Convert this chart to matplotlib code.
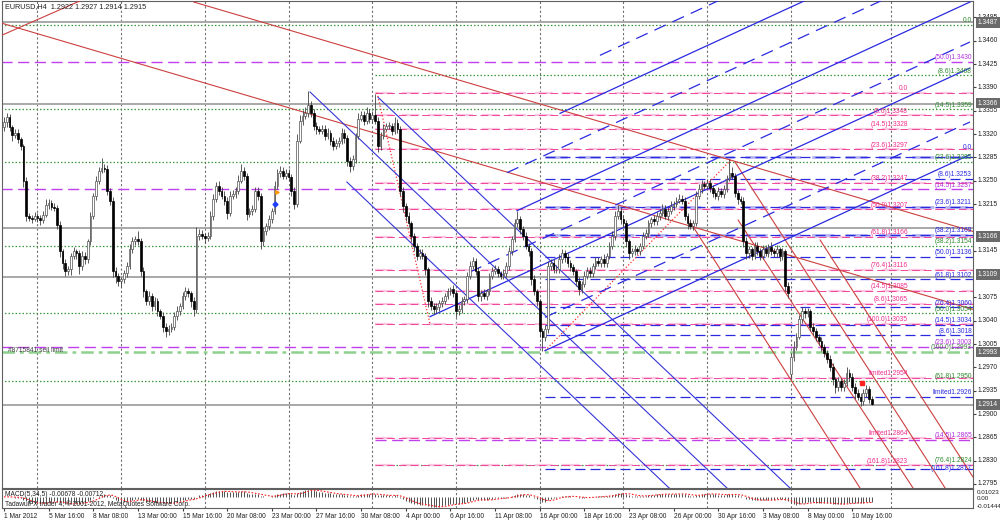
import matplotlib

matplotlib.use("Agg")
import matplotlib.pyplot as plt
import numpy as np
import pandas as pd

plt.rcParams["font.family"] = ["Liberation Sans", "DejaVu Sans"]

# EURUSD H4 closes, one row per trading day (1 Mar .. 11 May 2012, 6 bars a day)
closes = [
    1.3338, 1.3345, 1.3330, 1.3318, 1.3322, 1.3312,  # 1 Mar
    1.3302, 1.3250, 1.3197, 1.3194, 1.3193, 1.3197,
    1.3194, 1.3191, 1.3199, 1.3214, 1.3217, 1.3211,  # 5 Mar
    1.3209, 1.3184, 1.3144, 1.3126, 1.3114, 1.3117,
    1.3137, 1.3144, 1.3141, 1.3122, 1.3137, 1.3132,
    1.3159, 1.3197, 1.3227, 1.3250, 1.3265, 1.3269,
    1.3268, 1.3235, 1.3220, 1.3114, 1.3107, 1.3099,
    1.3102, 1.3111, 1.3122, 1.3147, 1.3159, 1.3162,  # 12 Mar
    1.3159, 1.3114, 1.3084, 1.3069, 1.3077, 1.3062,
    1.3069, 1.3054, 1.3047, 1.3031, 1.3024, 1.3027,
    1.3031, 1.3047, 1.3054, 1.3062, 1.3077, 1.3084,
    1.3081, 1.3069, 1.3057, 1.3167, 1.3170, 1.3167,
    1.3164, 1.3167, 1.3197, 1.3223, 1.3242, 1.3235,  # 19 Mar
    1.3227, 1.3220, 1.3202, 1.3227, 1.3230, 1.3235,
    1.3250, 1.3265, 1.3257, 1.3200, 1.3205, 1.3208,
    1.3235, 1.3227, 1.3159, 1.3174, 1.3182, 1.3192,
    1.3205, 1.3242, 1.3262, 1.3265, 1.3257, 1.3262,
    1.3256, 1.3235, 1.3215, 1.3310, 1.3340, 1.3347,  # 26 Mar
    1.3352, 1.3363, 1.3352, 1.3332, 1.3328, 1.3325,
    1.3328, 1.3317, 1.3322, 1.3310, 1.3302, 1.3307,
    1.3310, 1.3322, 1.3314, 1.3280, 1.3272, 1.3283,
    1.3317, 1.3343, 1.3348, 1.3340, 1.3352, 1.3343,
    1.3348, 1.3340, 1.3302, 1.3317, 1.3328, 1.3332,  # 2 Apr
    1.3332, 1.3325, 1.3337, 1.3328, 1.3235, 1.3212,
    1.3197, 1.3186, 1.3167, 1.3152, 1.3137, 1.3141,
    1.3137, 1.3117, 1.3069, 1.3062, 1.3057, 1.3060,
    1.3066, 1.3069, 1.3077, 1.3084, 1.3087, 1.3081,
    1.3054, 1.3057, 1.3069, 1.3072, 1.3107, 1.3122,  # 9 Apr
    1.3129, 1.3114, 1.3077, 1.3081, 1.3077, 1.3084,
    1.3107, 1.3114, 1.3117, 1.3111, 1.3107, 1.3111,
    1.3122, 1.3144, 1.3162, 1.3186, 1.3192, 1.3177,
    1.3167, 1.3152, 1.3144, 1.3102, 1.3084, 1.3069,
    1.3024, 1.3016, 1.3027, 1.3122, 1.3126, 1.3117,  # 16 Apr
    1.3117, 1.3132, 1.3141, 1.3135, 1.3126, 1.3120,
    1.3114, 1.3099, 1.3087, 1.3095, 1.3107, 1.3114,
    1.3111, 1.3122, 1.3129, 1.3126, 1.3132, 1.3126,
    1.3137, 1.3152, 1.3167, 1.3197, 1.3205, 1.3192,
    1.3186, 1.3159, 1.3141, 1.3144, 1.3147, 1.3144,  # 23 Apr
    1.3152, 1.3167, 1.3171, 1.3186, 1.3192, 1.3189,
    1.3197, 1.3202, 1.3208, 1.3197, 1.3205, 1.3212,
    1.3215, 1.3220, 1.3223, 1.3220, 1.3197, 1.3186,
    1.3182, 1.3186, 1.3227, 1.3238, 1.3245, 1.3242,
    1.3247, 1.3239, 1.3232, 1.3227, 1.3235, 1.3230,  # 30 Apr
    1.3238, 1.3253, 1.3262, 1.3257, 1.3232, 1.3223,
    1.3220, 1.3159, 1.3141, 1.3147, 1.3137, 1.3152,
    1.3144, 1.3137, 1.3147, 1.3141, 1.3150, 1.3144,
    1.3141, 1.3147, 1.3137, 1.3144, 1.3092, 1.3081,
    1.2986, 1.3001, 1.3016, 1.3042, 1.3054, 1.3051,  # 7 May
    1.3054, 1.3031, 1.3024, 1.3016, 1.3009, 1.3001,
    1.2991, 1.2982, 1.2971, 1.2952, 1.2941, 1.2949,
    1.2940, 1.2946, 1.2961, 1.2956, 1.2941, 1.2931,
    1.2926, 1.2919, 1.2931, 1.2937, 1.2922, 1.2915,
]

# wick lengths beyond the body, in pips
wick_up = [
    8, 6, 5, 4, 6, 5,  4, 3, 6, 4, 5, 6,  5, 4, 6, 8, 5, 4,  6, 4, 5, 3, 6, 5,
    5, 6, 4, 5, 7, 6,  4, 6, 5, 7, 6, 15,  6, 5, 4, 5, 6, 4,  4, 5, 6, 8, 7, 5,
    12, 5, 6, 4, 7, 5,  6, 5, 4, 6, 5, 7,  5, 6, 8, 5, 6, 7,  5, 4, 6, 14, 7, 6,
    5, 6, 8, 7, 6, 8,  6, 7, 5, 8, 6, 5,  8, 10, 6, 5, 4, 6,  6, 5, 4, 6, 5, 7,
    4, 8, 6, 7, 5, 6,  5, 4, 6, 10, 8, 9,  8, 22, 6, 5, 6, 4,  6, 5, 7, 4, 5, 6,
    5, 7, 6, 4, 5, 6,  4, 8, 6, 7, 9, 5,  7, 32, 5, 6, 7, 5,  6, 5, 8, 6, 4, 5,
    5, 6, 4, 5, 4, 6,  6, 5, 4, 6, 5, 7,  5, 6, 4, 5, 4, 6,  5, 6, 7, 5, 6, 8,
    7, 5, 6, 5, 6, 4,  5, 6, 7, 5, 4, 6,  6, 7, 5, 6, 12, 5,  5, 6, 4, 5, 6, 4,
    4, 5, 6, 8, 7, 6,  6, 8, 7, 5, 6, 5,  5, 4, 6, 5, 7, 6,  6, 5, 7, 6, 5, 8,
    5, 6, 8, 7, 9, 6,  6, 5, 4, 5, 6, 4,  5, 6, 7, 5, 4, 6,  6, 5, 7, 6, 5, 8,
    5, 6, 7, 6, 5, 4,  6, 5, 8, 7, 6, 5,  6, 5, 4, 6, 5, 4,  5, 6, 21, 8, 5, 4,
    4, 5, 6, 5, 4, 6,  6, 5, 7, 6, 5, 8,  5, 6, 4, 5, 4, 6,  6, 8, 6, 7, 6, 5,
    5, 4, 6, 5, 4, 6,  4, 5, 6, 5, 4, 6,  5, 6, 10, 7, 5, 6,  6, 5, 7, 6, 5, 5,
]
wick_dn = [
    5, 7, 6, 8, 4, 6,  6, 10, 8, 5, 6, 4,  6, 7, 5, 4, 6, 5,  5, 6, 8, 9, 7, 6,
    9, 5, 8, 12, 6, 7,  6, 5, 4, 6, 5, 4,  5, 7, 6, 8, 10, 7,  9, 6, 5, 4, 5, 6,
    5, 7, 9, 6, 5, 8,  6, 7, 5, 8, 9, 5,  4, 5, 6, 5, 4, 6,  6, 8, 10, 5, 6, 4,
    7, 5, 4, 6, 5, 6,  5, 6, 10, 5, 4, 6,  5, 4, 6, 9, 5, 6,  5, 6, 12, 7, 5, 6,
    6, 5, 4, 6, 5, 4,  6, 8, 7, 5, 4, 6,  5, 6, 7, 6, 8, 5,  5, 6, 5, 7, 6, 5,
    6, 5, 7, 8, 9, 6,  6, 5, 4, 6, 5, 7,  6, 5, 9, 6, 5, 4,  5, 6, 5, 7, 8, 9,
    7, 6, 8, 7, 6, 5,  5, 8, 9, 6, 7, 5,  6, 5, 4, 5, 6, 5,  8, 6, 5, 6, 5, 4,
    5, 6, 8, 7, 5, 6,  6, 5, 4, 6, 5, 4,  5, 6, 5, 4, 6, 7,  6, 5, 7, 8, 6, 7,
    8, 21, 6, 5, 6, 5,  5, 6, 5, 7, 6, 5,  6, 7, 9, 6, 5, 4,  5, 6, 5, 4, 6, 5,
    6, 5, 4, 6, 5, 7,  5, 8, 9, 6, 5, 4,  6, 5, 4, 5, 6, 5,  5, 6, 5, 4, 6, 5,
    6, 5, 4, 5, 6, 8,  5, 6, 4, 5, 6, 5,  5, 6, 7, 5, 6, 5,  6, 5, 4, 5, 6, 8,
    5, 8, 9, 7, 6, 5,  5, 6, 5, 4, 6, 5,  6, 5, 7, 6, 8, 7,  8, 6, 5, 4, 6, 7,
    6, 7, 5, 6, 5, 7,  6, 5, 7, 8, 9, 6,  6, 5, 4, 6, 7, 8,  5, 7, 6, 5, 6, 1,
]
first_open = 1.3330
gap_bars = [282]
gap_opens = [1.2960]

tick_bars = list(range(0, 305, 16))
tick_labels = [
    "1 Mar 2012", "5 Mar 16:00", "8 Mar 08:00", "13 Mar 00:00", "15 Mar 16:00",
    "20 Mar 08:00", "23 Mar 00:00", "27 Mar 16:00", "30 Mar 08:00", "4 Apr 00:00",
    "6 Apr 16:00", "11 Apr 08:00", "16 Apr 00:00", "18 Apr 16:00", "23 Apr 08:00",
    "26 Apr 00:00", "30 Apr 16:00", "3 May 08:00", "8 May 00:00", "10 May 16:00",
]
week_bars = [12, 42, 72, 102, 132, 162, 192, 222, 252, 282, 318]

# horizontal objects (price, first bar)
gray_lv = [1.3488, 1.3365, 1.3179, 1.3106, 1.2914]
green_lv = [1.3484, 1.3408, 1.3357, 1.3278, 1.3152, 1.3051, 1.2950, 1.2824]
green_from = [-1, 133, -1, -1, -1, -1, -1, 133]
green_txt = ["0.0", "(8.6)1.3408", "(14.5)1.3359", "(23.6)1.3285", "(38.2)1.3154",
             "(50.0)1.3054", "(61.8)1.2950", "(76.4)1.2824"]
purple_lv = [1.3428, 1.3237, 1.3001, 1.2861]
purple_from = [-1, -1, -1, 133]
purple_txt = ["(50.0)1.3430", "(14.5)1.3237", "(23.6)1.3003", "(14.5)1.2865"]
pink_lv = [1.3382, 1.3348, 1.3328, 1.3297, 1.3247, 1.3207, 1.3166, 1.3116, 1.3085,
           1.3065, 1.3035, 1.2954, 1.2864, 1.2823]
pink_txt = ["0.0", "(8.6)1.3348", "(14.5)1.3328", "(23.6)1.3297", "(38.2)1.3247",
            "(50.0)1.3207", "(61.8)1.3166", "(76.4)1.3116", "(14.5)1.3085", "(8.6)1.3065",
            "(100.0)1.3035", "limited1.2954", "limited1.2864", "(161.8)1.2823"]
blue_lv = [1.3285, 1.3253, 1.3211, 1.3169, 1.3136, 1.3102, 1.3060, 1.3034, 1.3018,
           1.2926, 1.2817]
blue_txt = ["0.0", "(8.6)1.3253", "(23.6)1.3211", "(38.2)1.3169", "(50.0)1.3136",
            "(61.8)1.3102", "(76.4)1.3060", "(14.5)1.3034", "(8.6)1.3018",
            "limited1.2926", "(161.8)1.2817"]
sell_limit = 1.2993

# trend lines: (bar0, price0) -> (bar1, price1)
red_b0 = [68.0, -1.4, -1.4, 245.9, 262.0, 263.1, 292.5]
red_p0 = [1.3518, 1.3487, 1.3467, 1.3188, 1.3278, 1.3191, 1.3161]
red_b1 = [348.0, 348.0, 28.0, 306.8, 337.3, 325.8, 348.0]
red_p1 = [1.3173, 1.3056, 1.3521, 1.2789, 1.2789, 1.2789, 1.2801]
fibline_b0 = [133.7, 193.9]
fibline_p0 = [1.3382, 1.2995]
fibline_b1 = [152.7, 261.0]
fibline_p1 = [1.3035, 1.3283]
bdown_b0 = [109.7, 122.9, 134.1]
bdown_p0 = [1.3383, 1.3248, 1.3375]
bdown_b1 = [259.1, 238.4, 281.7]
bdown_p1 = [1.2789, 1.2789, 1.2789]
bup_b0 = [193.9, 152.7, 183.9, 199.3]
bup_p0 = [1.2995, 1.3046, 1.3205, 1.3351]
bup_p1 = [1.3289, 1.3419, 1.3518, 1.3634]
bupd_b0 = [193.9, 167.0, 180.3, 213.6]
bupd_p0 = [1.3045, 1.3113, 1.3262, 1.3438]
bupd_p1 = [1.3338, 1.3458, 1.3581, 1.3694]
bup_end = 346.2

axis_prices = [1.2795, 1.2830, 1.2865, 1.2900, 1.2935, 1.2970, 1.3005, 1.3040, 1.3075,
               1.3145, 1.3215, 1.3250, 1.3285, 1.3320, 1.3355, 1.3390, 1.3425,
               1.3460, 1.3495]
box_prices = [1.3487, 1.3366, 1.3166, 1.3109, 1.2993, 1.2914]

XMIN, XMAX = -0.7, 347.3
FS = 4.8

c = np.array(closes)
o = np.r_[first_open, c[:-1]]
for b, v in zip(gap_bars, gap_opens):
    o[b] = v
hi = np.maximum(o, c) + np.array(wick_up) * 1e-4
lo = np.minimum(o, c) - np.array(wick_dn) * 1e-4
x = np.arange(len(c))

fig = plt.figure(figsize=(10, 5.21), dpi=100)
ax = fig.add_axes([0.002, 33 / 521, 0.971, 487 / 521])
axm = fig.add_axes([0.002, 13 / 521, 0.971, 19 / 521])

for a in (ax, axm):
    a.set_xlim(XMIN, XMAX)
    for s in a.spines.values():
        s.set_color("#606060")
        s.set_linewidth(0.8)
    for wb in week_bars:
        a.axvline(wb, color="#707070", lw=0.8, ls=(0, (2, 2)), zorder=1)
ax.set_ylim(1.2789, 1.35195)

# horizontal objects
for p in gray_lv:
    ax.plot([XMIN, XMAX], [p, p], color="#a8a8a8", lw=1.4, zorder=2)
ax.plot([XMIN, XMAX], [sell_limit] * 2, color="#8fd08f", lw=1.8,
        ls=(0, (5, 2, 1.5, 2)), zorder=2)
for p, b0 in zip(green_lv, green_from):
    ax.plot([b0, XMAX], [p, p], color="#3a9a3a", lw=0.9, ls=(0, (1.2, 1.6)), zorder=2)
for p, b0 in zip(purple_lv, purple_from):
    ax.plot([b0, XMAX], [p, p], color="#c040f0", lw=1.0, ls=(0, (8, 4)), zorder=2)
for p in pink_lv:
    ax.plot([133, XMAX], [p, p], color="#fbc4df", lw=1.6, ls=(0, (8, 4)), zorder=2)
    ax.plot([133, XMAX], [p, p], color="#f0479c", lw=0.7, ls=(0, (8, 4)), zorder=2)
for i, p in enumerate(blue_lv):
    if i in (0, 2, 3):
        ax.plot([194, XMAX], [p, p], color="#b4b4f2", lw=2.0, ls=(0, (8, 4)), zorder=2)
    ax.plot([194, XMAX], [p, p], color="#2a2ae0", lw=0.9, ls=(0, (8, 4)), zorder=2)

# trend lines
for b0, p0, b1, p1 in zip(red_b0, red_p0, red_b1, red_p1):
    ax.plot([b0, b1], [p0, p1], color="#cc4040", lw=0.8, zorder=3)
for b0, p0, b1, p1 in zip(fibline_b0, fibline_p0, fibline_b1, fibline_p1):
    ax.plot([b0, b1], [p0, p1], color="#ff3030", lw=0.9, ls=":", zorder=3)
for b0, p0, b1, p1 in zip(bdown_b0, bdown_p0, bdown_b1, bdown_p1):
    ax.plot([b0, b1], [p0, p1], color="#3535d8", lw=0.8, zorder=3)
for b0, p0, p1 in zip(bup_b0, bup_p0, bup_p1):
    ax.plot([b0, bup_end], [p0, p1], color="#2a2ae0", lw=0.9, zorder=3)
for b0, p0, p1 in zip(bupd_b0, bupd_p0, bupd_p1):
    ax.plot([b0, bup_end], [p0, p1], color="#2a2ae0", lw=0.9, ls=(0, (10, 6)), zorder=3)

# candles
up = c >= o
ax.vlines(x, lo, hi, color="#404040", lw=0.6, zorder=4)
body_lo = np.minimum(o, c)
body_h = np.maximum(np.abs(c - o), 0.00008)
ax.bar(x[up], body_h[up], bottom=body_lo[up], width=0.62, color="white",
       edgecolor="#505050", lw=0.5, zorder=5)
ax.bar(x[~up], body_h[~up], bottom=body_lo[~up], width=0.62, color="black",
       edgecolor="black", lw=0.5, zorder=5)

# small chart objects
ax.plot(97.0, 1.3215, marker="D", ms=2.5, color="#1f3fff", zorder=6)
ax.plot(98.0, 1.3233, marker=">", ms=2.5, color="#ff9900", zorder=6)
ax.plot(307.5, 1.2946, marker="s", ms=3, color="#ff2020", zorder=6)

# level labels
for p, t in zip(pink_lv, pink_txt):
    ax.text(324, p + 0.0001, t, color="#ee2d8c", fontsize=FS, ha="right", va="bottom", zorder=7)
right_x = XMAX - 0.4
for p, t in zip(green_lv, green_txt):
    ax.text(right_x, p + 0.0001, t, color="#2e8b2e", fontsize=FS, ha="right", va="bottom", zorder=7)
for p, t in zip(purple_lv, purple_txt):
    ax.text(right_x, p + 0.0001, t, color="#b030e0", fontsize=FS, ha="right", va="bottom", zorder=7)
for p, t in zip(blue_lv[1:], blue_txt[1:]):
    dy = 0.0001 if p > 1.2820 else -0.00045
    ax.text(right_x, p + dy, t, color="#2a2ae0", fontsize=FS, ha="right", va="bottom", zorder=7)
ax.text(right_x, blue_lv[0] + 0.0009, blue_txt[0], color="#2a2ae0", fontsize=FS,
        ha="right", va="bottom", zorder=7)
ax.text(right_x, sell_limit + 0.0001, "(100.0)1.2993", color="#4a7a4a", fontsize=FS,
        ha="right", va="bottom", zorder=7)
ax.text(1.5, sell_limit + 0.00025, "#8715841 sell limit", color="#404040", fontsize=FS,
        ha="left", va="center", zorder=7)

# right price scale
ax.set_xticks([])
ax.set_yticks(axis_prices)
ax.tick_params(axis="y", left=False, right=True, labelleft=False, labelright=False,
               direction="out", length=2, color="#404040")
ytr = ax.get_yaxis_transform()
for p in axis_prices:
    ax.text(1.005, p, f"{p:.4f}", transform=ytr, fontsize=FS, color="#202020",
            ha="left", va="center", clip_on=False)
for p in box_prices:
    ax.text(1.005, p, f"{p:.4f}", transform=ytr, fontsize=FS, color="white",
            ha="left", va="center", clip_on=False, zorder=10,
            bbox=dict(boxstyle="square,pad=0.25", fc="#6a6a6a", ec="none"))

fig.text(0.005, 1 - 7 / 521, "EURUSD,H4  1.2922 1.2927 1.2914 1.2915",
         fontsize=5.2, color="#202020", ha="left", va="center")

# MACD(5,34,5) window
ema_fast = pd.Series(c).ewm(span=5, adjust=False).mean()
ema_slow = pd.Series(c).ewm(span=34, adjust=False).mean()
macd = (ema_fast - ema_slow).values
signal = pd.Series(macd).rolling(5, min_periods=1).mean().values
axm.set_ylim(-0.01444, 0.01023)
axm.vlines(x, 0, macd, color="#505050", lw=0.7, zorder=3)
axm.plot(x, signal, color="#ff2020", lw=0.8, ls=(0, (1.5, 1.5)), zorder=4)
axm.set_yticks([])
axm.set_xticks(tick_bars)
axm.set_xticklabels(tick_labels, fontsize=FS, ha="left", color="#202020")
axm.tick_params(axis="x", length=2, pad=1.5, color="#404040")
fig.text(0.005, 1 - 495 / 521, "MACD(5,34,5) -0.00678 -0.00712", fontsize=FS,
         color="#202020", ha="left", va="center")
fig.text(0.005, 1 - 504 / 521, "TadawulFX trader 4, \u00a9 2001-2012, MetaQuotes Software Corp.",
         fontsize=FS, color="#202020", ha="left", va="center")
for yy, t in [(493, "0.01023"), (499, "0.00"), (506, "-0.01444")]:
    fig.text(0.977, 1 - yy / 521, t, fontsize=4.5, color="#202020", ha="left", va="center")

fig.savefig("out.png", dpi=100, facecolor="white")
